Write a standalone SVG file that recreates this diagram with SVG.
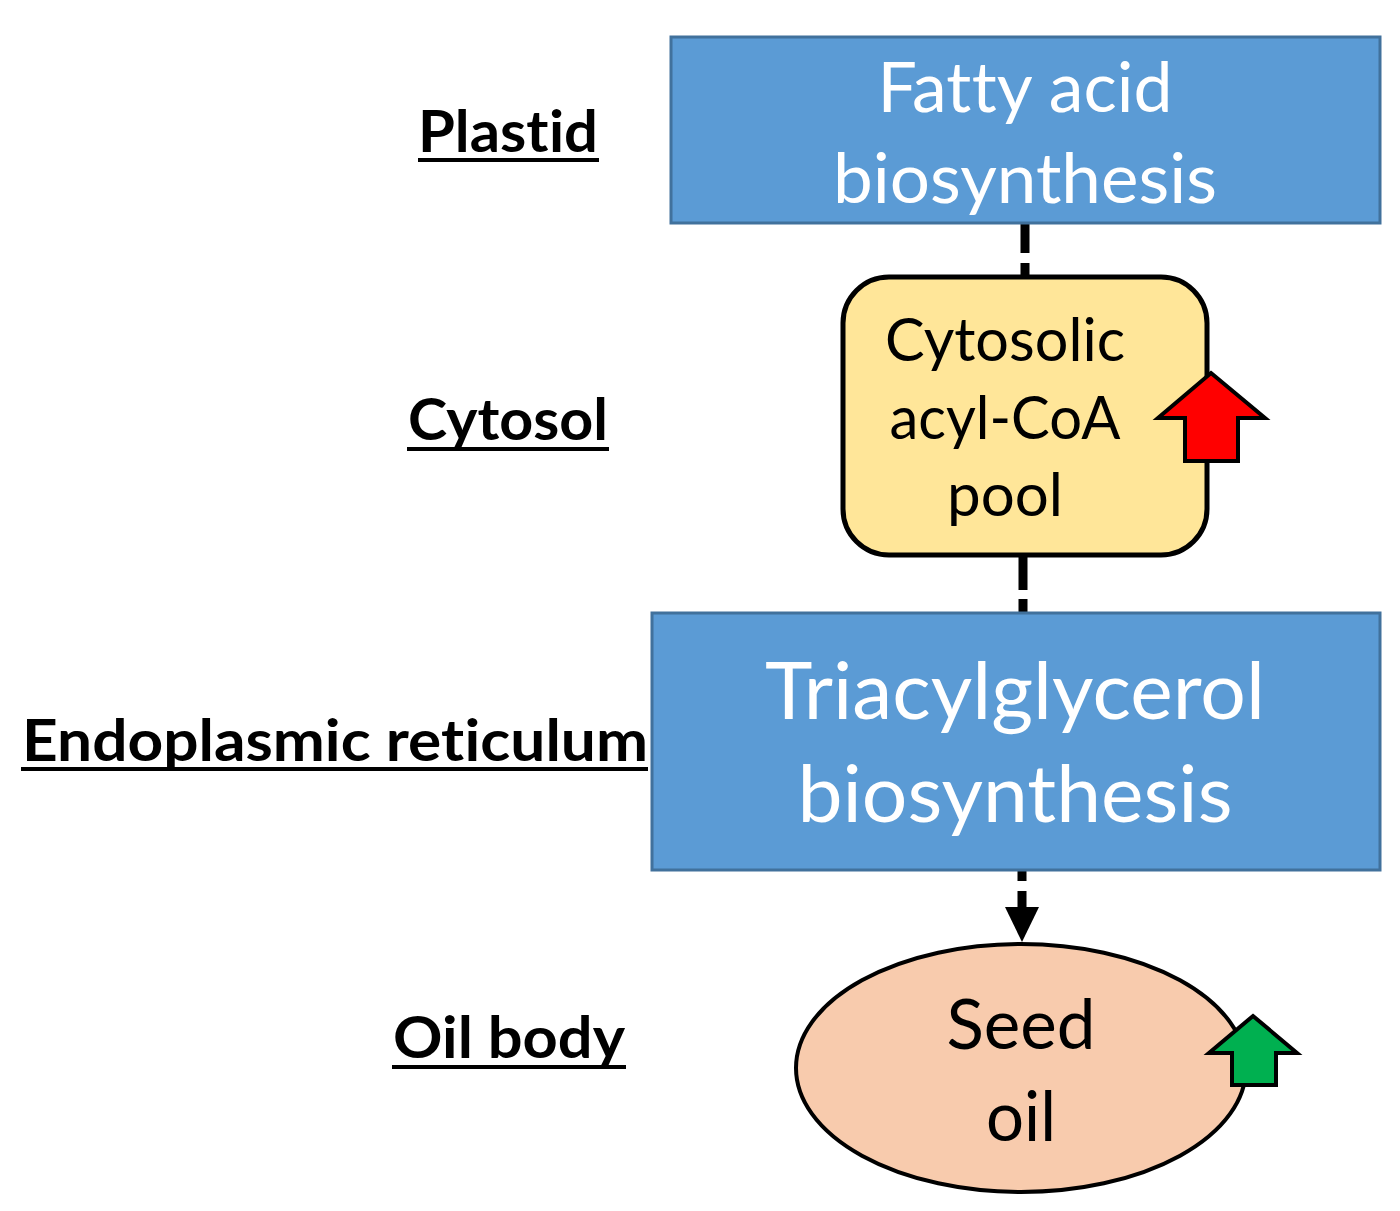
<svg xmlns="http://www.w3.org/2000/svg" width="1400" height="1211" viewBox="0 0 1400 1211">
<style>
text{font-variant-ligatures:none;font-feature-settings:"liga" 0,"clig" 0,"dlig" 0,"calt" 0}
.blue{fill:#5b9bd5;stroke:#41719c;stroke-width:3}
.wt{fill:#ffffff;font-family:Lato,"Open Sans",sans-serif;text-anchor:middle}
.bk{fill:#000000;font-family:Lato,"Open Sans",sans-serif;text-anchor:middle}
.lbl{fill:#000000;font-family:Lato,"Open Sans",sans-serif;font-weight:bold;font-size:58px}
.ul{stroke:#000;stroke-width:4}
.conn{stroke:#000;stroke-width:9;fill:none}
.up{stroke:#000;stroke-width:4;stroke-linejoin:miter}
</style>
<rect width="1400" height="1211" fill="#ffffff"/>
<g id="labels">
<text class="lbl" x="418" y="152" textLength="180" lengthAdjust="spacingAndGlyphs">Plast<tspan dx="0.5">id</tspan></text>
<line class="ul" x1="418" y1="160" x2="599" y2="160"/>
<text class="lbl" x="408" y="440" textLength="200" lengthAdjust="spacingAndGlyphs">Cytosol</text>
<line class="ul" x1="407" y1="449" x2="609" y2="449"/>
<text class="lbl" x="22" y="761" textLength="626" lengthAdjust="spacingAndGlyphs">Endoplasmic ret<tspan dx="0.5">iculum</tspan></text>
<line class="ul" x1="21" y1="769" x2="648" y2="769"/>
<text class="lbl" x="393" y="1058" textLength="232" lengthAdjust="spacingAndGlyphs">Oil body</text>
<line class="ul" x1="392" y1="1067" x2="626" y2="1067"/>
</g>
<g id="connectors">
<line class="conn" x1="1025" y1="224" x2="1025" y2="276" stroke-dasharray="29 10"/>
<line class="conn" x1="1023" y1="556" x2="1023" y2="612" stroke-dasharray="34 9"/>
<line class="conn" x1="1022" y1="871" x2="1022" y2="910" stroke-dasharray="10 10 30"/>
<polygon points="1005,907 1039,907 1022,942" fill="#000"/>
</g>
<g id="fatty-acid">
<rect class="blue" x="671" y="37" width="709" height="186"/>
<text class="wt" x="1025" y="112" font-size="69" textLength="295" lengthAdjust="spacingAndGlyphs">Fat<tspan dx="0.5">ty acid</tspan></text>
<text class="wt" x="1025" y="203" font-size="69" textLength="384" lengthAdjust="spacingAndGlyphs">biosynthesis</text>
</g>
<g id="acyl-coa-pool">
<rect x="843" y="277" width="364" height="278" rx="46" ry="46" fill="#ffe699" stroke="#000" stroke-width="5"/>
<text class="bk" x="1005" y="361" font-size="60" textLength="240" lengthAdjust="spacingAndGlyphs">Cytosolic</text>
<text class="bk" x="1005" y="439" font-size="60" textLength="231" lengthAdjust="spacingAndGlyphs">acyl-CoA</text>
<text class="bk" x="1005" y="516" font-size="60" textLength="116" lengthAdjust="spacingAndGlyphs">pool</text>
</g>
<g id="red-arrow">
<polygon class="up" fill="#ff0000" points="1211,373 1265,418 1238,418 1238,461 1185,461 1185,418 1158,418"/>
</g>
<g id="tag">
<rect class="blue" x="652" y="613" width="728" height="257"/>
<text class="wt" x="1015" y="719" font-size="79" textLength="500" lengthAdjust="spacingAndGlyphs">Triacylglycerol</text>
<text class="wt" x="1015" y="822" font-size="79" textLength="435" lengthAdjust="spacingAndGlyphs">biosynthesis</text>
</g>
<g id="seed-oil">
<ellipse cx="1021" cy="1068" rx="225" ry="124" fill="#f8cbad" stroke="#000" stroke-width="4"/>
<text class="bk" x="1021" y="1049" font-size="69" textLength="149" lengthAdjust="spacingAndGlyphs">Seed</text>
<text class="bk" x="1021" y="1141" font-size="69" textLength="70" lengthAdjust="spacingAndGlyphs">oil</text>
</g>
<g id="green-arrow">
<polygon class="up" fill="#00b050" points="1253,1016 1297,1053 1276,1053 1276,1085 1232,1085 1232,1053 1209,1053"/>
</g>
</svg>
